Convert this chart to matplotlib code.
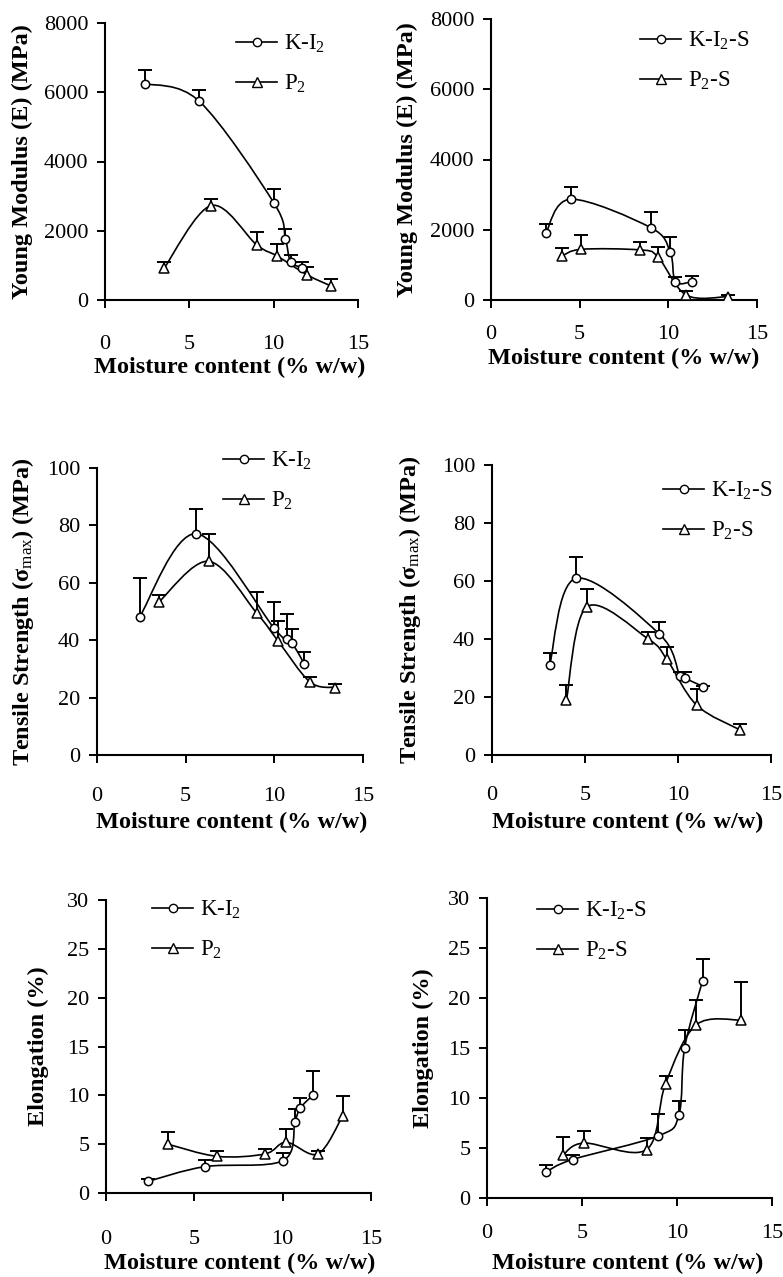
import numpy as np
import matplotlib
matplotlib.use("Agg")
import matplotlib.pyplot as plt
from matplotlib.path import Path
from matplotlib.patches import PathPatch
from matplotlib.lines import Line2D

plt.rcParams['font.family'] = ['Liberation Serif', 'DejaVu Serif']
plt.rcParams['mathtext.fontset'] = 'custom'
plt.rcParams['mathtext.rm'] = 'Liberation Serif'
plt.rcParams['mathtext.it'] = 'Liberation Serif:italic'
plt.rcParams['mathtext.bf'] = 'Liberation Serif:bold'

# moisture content (% w/w) of each film
mc_ki2 = [2.4, 5.6, 10.0, 10.7, 11.0, 11.7]
mc_p2 = [3.5, 6.3, 9.0, 10.2, 12.0, 13.4]
mc_ki2s = [3.1, 4.5, 9.0, 10.1, 10.4, 11.35]
mc_p2s = [4.0, 5.1, 8.4, 9.4, 11.0, 13.35]

# Young modulus (MPa) and upper SD
E_ki2 = [6250, 5735, 2815, 1773, 1108, 935]
E_ki2_sd = [380, 335, 385, 277, 192, 173]
E_p2 = [915, 2728, 1590, 1272, 723, 405]
E_p2_sd = [193, 192, 386, 338, 241, 193]
E_ki2s = [1919, 2869, 2062, 1378, 523, 523]
E_ki2s_sd = [247, 361, 437, 408, 123, 161]
E_p2s = [1254, 1444, 1425, 1235, 143, 95]
E_p2s_sd = [219, 409, 238, 285, 123, 48]

# tensile strength (MPa)
TS_ki2 = [48.1, 77.1, 44.1, 40.3, 39.1, 31.6]
TS_ki2_sd = [13.4, 8.5, 9.3, 8.7, 4.8, 4.4]
TS_p2 = [53.4, 67.5, 49.5, 39.8, 25.5, 23.5]
TS_p2_sd = [2.3, 9.6, 7.3, 6.8, 1.8, 1.4]
TS_ki2s = [31.0, 60.9, 41.7, 27.4, 26.4, 23.6]
TS_ki2s_sd = [4.1, 7.3, 4.0, 1.1, 2.3, 0.3]
TS_p2s = [19.0, 51.1, 40.0, 33.0, 17.2, 8.6]
TS_p2s_sd = [5.1, 6.0, 2.3, 4.1, 5.6, 2.1]

# elongation (%)
El_ki2 = [1.2, 2.7, 3.3, 7.3, 8.7, 10.0]
El_ki2_sd = [0.2, 0.7, 0.8, 1.3, 1.0, 2.5]
El_p2 = [5.0, 3.75, 4.0, 5.2, 4.0, 7.9]
El_p2_sd = [1.2, 0.5, 0.5, 1.4, 0.3, 2.0]
El_ki2s = [2.6, 3.85, 6.2, 8.3, 15.0, 21.75]
El_ki2s_sd = [0.7, 0.45, 2.2, 1.4, 1.8, 2.15]
El_p2s = [4.3, 5.5, 4.85, 11.45, 17.3, 17.8]
El_p2s_sd = [1.8, 1.2, 1.2, 0.8, 2.5, 3.85]

W, H = 783, 1277
fig = plt.figure(figsize=(W / 100, H / 100), dpi=100)


def smooth_path(x, y):
    # excel-like smoothed line (catmull-rom as bezier segments)
    pts = np.column_stack([x, y]).astype(float)
    n = len(pts)
    verts = [pts[0]]
    codes = [Path.MOVETO]
    for i in range(n - 1):
        p0 = pts[i - 1] if i > 0 else pts[i]
        p1, p2 = pts[i], pts[i + 1]
        p3 = pts[i + 2] if i + 2 < n else pts[i + 1]
        verts += [p1 + (p2 - p0) / 6, p2 - (p3 - p1) / 6, p2]
        codes += [Path.CURVE4] * 3
    return Path(verts, codes)


def draw_series(ax, x, y, sd, marker, ms):
    ax.add_patch(PathPatch(smooth_path(x, y), fill=False, ec='black', lw=1.2, zorder=2))
    eb = ax.errorbar(x, y, yerr=[np.zeros(len(sd)), sd], fmt='none', ecolor='black',
                     elinewidth=1.4, capsize=4.8, capthick=1.4, zorder=3)
    eb[1][0].set_visible(False)  # only keep the upper cap
    ax.plot(x, y, ls='none', marker=marker, ms=ms, mfc='white', mec='black', mew=1.1, zorder=4)


def make_panel(box, series, ymax, yticks, ylabel, names, xpad, xlab_pos, ylab_pos, leg_pos):
    l, t, r, b = box
    ax = fig.add_axes([l / W, 1 - b / H, (r - l) / W, (b - t) / H])
    (x1, y1, s1), (x2, y2, s2) = series
    draw_series(ax, x1, y1, s1, 'o', 6)
    draw_series(ax, x2, y2, s2, '^', 7.5)
    ax.set_xlim(0, 15)
    ax.set_ylim(0, ymax)
    ax.set_xticks([0, 5, 10, 15])
    ax.set_yticks(yticks)
    for s in ['top', 'right']:
        ax.spines[s].set_visible(False)
    for s in ['left', 'bottom']:
        ax.spines[s].set_linewidth(1.5)
    ax.tick_params(direction='out', length=6, width=1.4, labelsize=16)
    ax.tick_params(axis='x', pad=xpad)
    ax.tick_params(axis='y', pad=6)
    ax.set_xlabel('Moisture content (% w/w)', fontsize=17.5, fontweight='bold', va='center')
    ax.xaxis.set_label_coords(xlab_pos[0] / W, 1 - xlab_pos[1] / H, transform=fig.transFigure)
    ax.set_ylabel(ylabel, fontsize=17.5, fontweight='bold', va='center')
    ax.yaxis.set_label_coords(ylab_pos / W, 1 - (t + b) / 2 / H, transform=fig.transFigure)
    handles = [Line2D([], [], color='black', lw=1.2, marker='o', ms=6, mfc='white', mec='black'),
               Line2D([], [], color='black', lw=1.2, marker='^', ms=7.5, mfc='white', mec='black')]
    ax.legend(handles, names, loc='center left', bbox_to_anchor=(leg_pos[0] / W, 1 - leg_pos[1] / H),
              bbox_transform=fig.transFigure, frameon=False, fontsize=16.5, numpoints=1,
              handlelength=1.8, handletextpad=0.3, borderpad=0, borderaxespad=0, labelspacing=0.8)
    return ax


ki2 = ['K-I$_\\mathrm{2}$', 'P$_\\mathrm{2}$']
ki2s = ['K-I$_\\mathrm{2}$-S', 'P$_\\mathrm{2}$-S']
lab_E = 'Young Modulus (E) (MPa)'
lab_TS = 'Tensile Strength (σ$_\\mathrm{max}$) (MPa)'
lab_El = 'Elongation (%)'

make_panel((105, 23, 358, 300), [(mc_ki2, E_ki2, E_ki2_sd), (mc_p2, E_p2, E_p2_sd)],
           8000, [0, 2000, 4000, 6000, 8000], lab_E, ki2, 19, (230, 367), 22, (236, 64))
make_panel((491, 19, 757, 300), [(mc_ki2s, E_ki2s, E_ki2s_sd), (mc_p2s, E_p2s, E_p2s_sd)],
           8000, [0, 2000, 4000, 6000, 8000], lab_E, ki2s, 12, (624, 358), 407, (640, 61))
make_panel((97, 468, 363, 755), [(mc_ki2, TS_ki2, TS_ki2_sd), (mc_p2, TS_p2, TS_p2_sd)],
           100, [0, 20, 40, 60, 80, 100], lab_TS, ki2, 17, (232, 822), 23, (223, 481))
make_panel((492, 465, 771, 755), [(mc_ki2s, TS_ki2s, TS_ki2s_sd), (mc_p2s, TS_p2s, TS_p2s_sd)],
           100, [0, 20, 40, 60, 80, 100], lab_TS, ki2s, 16, (628, 822), 410, (663, 511))
make_panel((106, 900, 371, 1193), [(mc_ki2, El_ki2, El_ki2_sd), (mc_p2, El_p2, El_p2_sd)],
           30, [0, 5, 10, 15, 20, 25, 30], lab_El, ki2, 21, (240, 1263), 38, (152, 930))
make_panel((487, 898, 772, 1198), [(mc_ki2s, El_ki2s, El_ki2s_sd), (mc_p2s, El_p2s, El_p2s_sd)],
           30, [0, 5, 10, 15, 20, 25, 30], lab_El, ki2s, 13, (628, 1263), 423, (537, 931))

fig.savefig('out.png', dpi=100)
